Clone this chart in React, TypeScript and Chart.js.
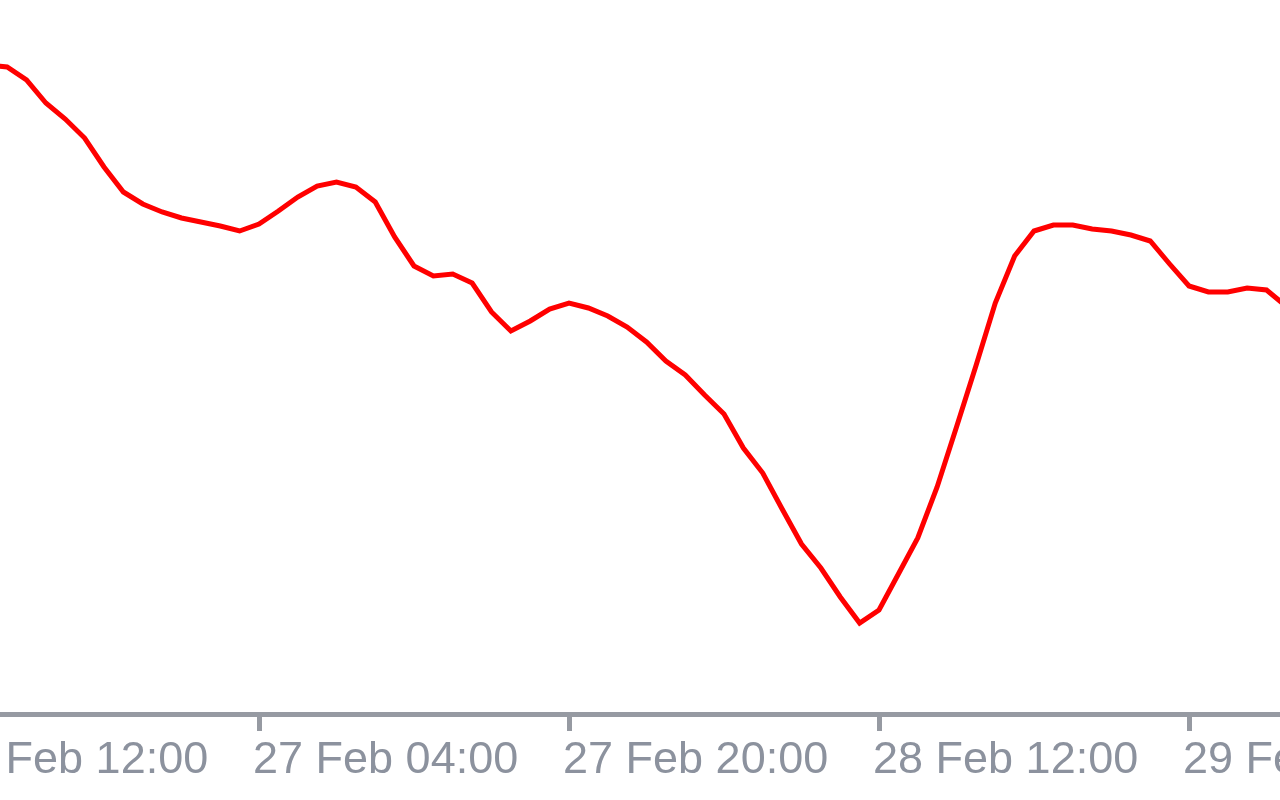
import React, { useEffect, useRef } from "react";
import { Chart, registerables } from "chart.js";

Chart.register(...registerables);

// Hours counted from 26 Feb 00:00
const hours: number[] = [
  14, 15, 16, 17, 18, 19, 20, 21, 22, 23, 24, 25, 26, 27, 28, 29, 30, 31, 32, 33,
  34, 35, 36, 37, 38, 39, 40, 41, 42, 43, 44, 45, 46, 47, 48, 49, 50, 51, 52, 53,
  54, 55, 56, 57, 58, 59, 60, 61, 62, 63, 64, 65, 66, 67, 68, 69, 70, 71, 72, 73,
  74, 75, 76, 77, 78, 79, 80, 81,
];

const values: number[] = [
  649, 647, 634, 611, 595, 576, 547, 522, 510, 502, 496, 492, 488, 483, 490, 503, 517, 528, 532, 527,
  512, 477, 448, 438, 440, 431, 402, 383, 393, 405, 411, 406, 398, 387, 372, 353, 339, 319, 300, 266,
  241, 205, 170, 146, 117, 91, 104, 140, 176, 227, 287, 348, 411, 458, 483, 489, 489, 485, 483, 479,
  473, 450, 428, 422, 422, 426, 424, 408,
];

const tickHours: number[] = [12, 28, 44, 60, 76];
const tickLabels: string[] = [
  "26 Feb 12:00",
  "27 Feb 04:00",
  "27 Feb 20:00",
  "28 Feb 12:00",
  "29 Feb 04:00",
];

const AXIS_COLOR = "rgb(150,154,162)";
const LABEL_COLOR = "rgb(140,146,158)";

export default function App() {
  const canvasRef = useRef<HTMLCanvasElement | null>(null);

  useEffect(() => {
    const canvas = canvasRef.current;
    if (!canvas) return;
    const chart = new Chart(canvas, {
      type: "line",
      data: {
        datasets: [
          {
            data: hours.map((h, i) => ({ x: h, y: values[i] })),
            borderColor: "#ff0000",
            borderWidth: 5,
            pointRadius: 0,
            tension: 0,
            fill: false,
          },
        ],
      },
      options: {
        animation: false,
        responsive: true,
        maintainAspectRatio: false,
        layout: { padding: 0 },
        plugins: {
          legend: { display: false },
          tooltip: { enabled: false },
        },
        scales: {
          x: {
            type: "linear",
            min: 9.471,
            max: 96.18,
            afterBuildTicks: (scale: any) => {
              scale.ticks = tickHours.map((v) => ({ value: v }));
            },
            afterFit: (scale: any) => {
              scale.height = 86;
            },
            border: { display: true, color: AXIS_COLOR, width: 5 },
            grid: {
              drawOnChartArea: false,
              drawTicks: true,
              tickLength: 17,
              tickWidth: 5,
              tickColor: AXIS_COLOR,
              color: AXIS_COLOR,
            },
            ticks: {
              autoSkip: false,
              maxRotation: 0,
              minRotation: 0,
              align: "start",
              labelOffset: -6,
              padding: 3,
              color: LABEL_COLOR,
              font: { family: "'Liberation Sans', Arial, sans-serif", size: 45 },
              callback: (value: any) => {
                const idx = tickHours.indexOf(Number(value));
                return idx >= 0 ? tickLabels[idx] : "";
              },
            },
          },
          y: {
            display: false,
            min: 0,
            max: 714,
          },
        },
      },
    });
    return () => chart.destroy();
  }, []);

  return (
    <div
      style={{
        position: "fixed",
        left: 0,
        top: 0,
        width: 1280,
        height: 800,
        overflow: "hidden",
        background: "#ffffff",
      }}
    >
      <div style={{ position: "absolute", left: -100, top: 0, width: 1680, height: 800 }}>
        <canvas ref={canvasRef} />
      </div>
    </div>
  );
}
